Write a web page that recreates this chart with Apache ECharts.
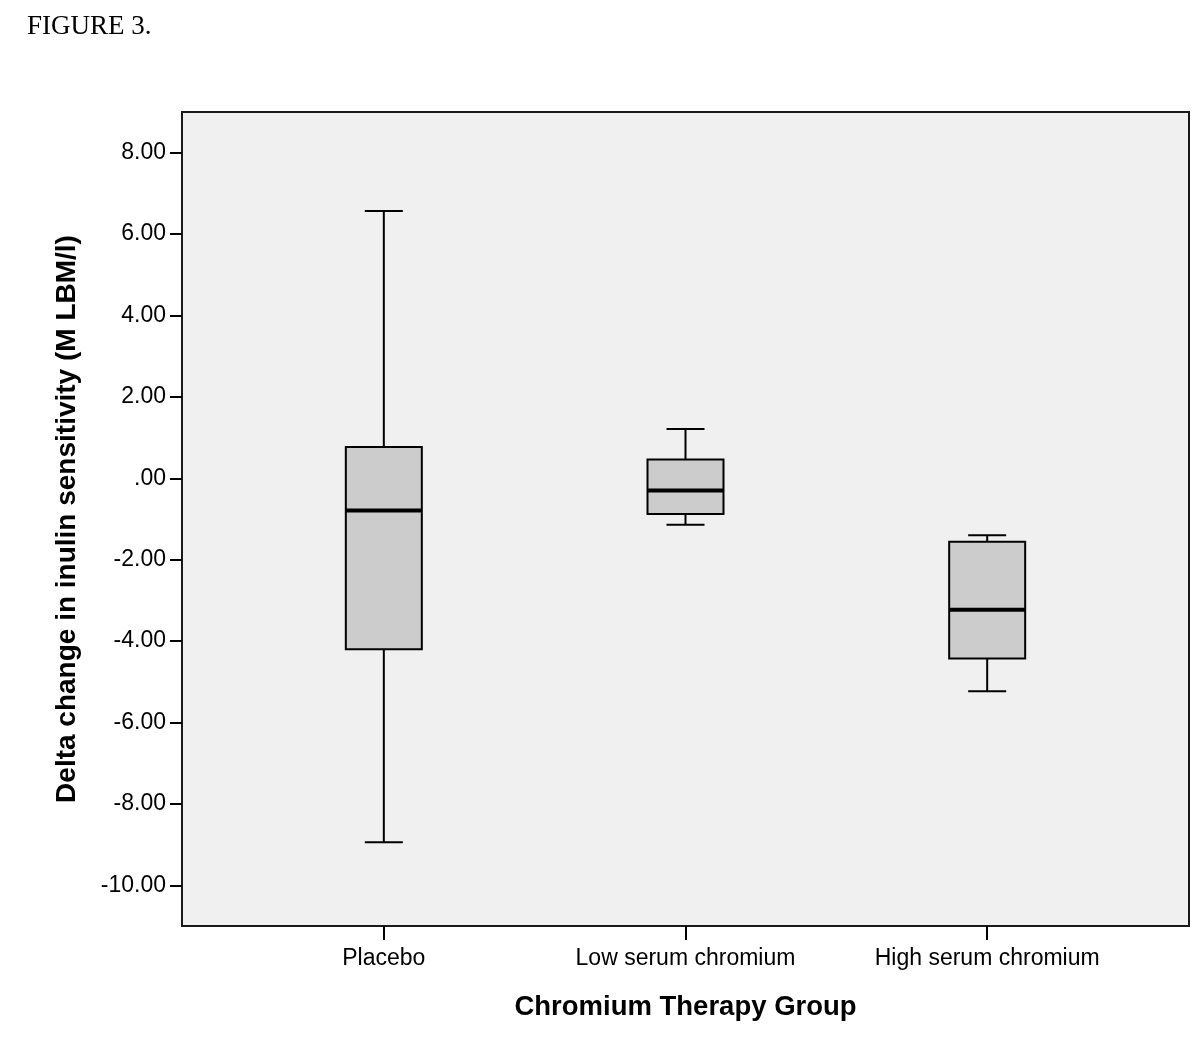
<!DOCTYPE html>
<html>
<head>
<meta charset="utf-8">
<script src="https://cdn.jsdelivr.net/npm/echarts@6/dist/echarts.min.js"></script>
<style>
html,body{margin:0;padding:0;background:#fff;}
#chart{width:1200px;height:1042px;}
</style>
</head>
<body>
<div id="chart"></div>
<script>
// Data
const categories = ['Placebo', 'Low serum chromium', 'High serum chromium'];
const whiskerLow = [-8.94, -1.14, -5.23];
const q1 = [-4.20, -0.88, -4.43];
const median = [-0.79, -0.30, -3.23];
const q3 = [0.77, 0.46, -1.56];
const whiskerHigh = [6.57, 1.21, -1.40];
const yTicks = [-10, -8, -6, -4, -2, 0, 2, 4, 6, 8];

const FONT = '"Liberation Sans", Arial, sans-serif';
const boxData = categories.map((c, i) => [i + 1, whiskerLow[i], q1[i], median[i], q3[i], whiskerHigh[i]]);

function fmtY(v) {
  let s = Math.abs(v).toFixed(2);
  if (Math.abs(v) < 1) s = s.replace(/^0/, '');
  return (v < 0 ? '-' : '') + s;
}

const BOX_W = 76, CAP_W = 38;

function renderBox(params, api) {
  const x = api.value(0);
  const pLow = api.coord([x, api.value(1)]);
  const pQ1 = api.coord([x, api.value(2)]);
  const pMed = api.coord([x, api.value(3)]);
  const pQ3 = api.coord([x, api.value(4)]);
  const pHigh = api.coord([x, api.value(5)]);
  const cx = pLow[0];
  const lineStyle = { stroke: '#000', lineWidth: 2 };
  return {
    type: 'group',
    children: [
      { type: 'line', shape: { x1: cx, y1: pHigh[1], x2: cx, y2: pQ3[1] }, style: lineStyle },
      { type: 'line', shape: { x1: cx, y1: pQ1[1], x2: cx, y2: pLow[1] }, style: lineStyle },
      { type: 'line', shape: { x1: cx - CAP_W / 2, y1: pHigh[1], x2: cx + CAP_W / 2, y2: pHigh[1] }, style: lineStyle },
      { type: 'line', shape: { x1: cx - CAP_W / 2, y1: pLow[1], x2: cx + CAP_W / 2, y2: pLow[1] }, style: lineStyle },
      { type: 'rect', shape: { x: cx - BOX_W / 2, y: pQ3[1], width: BOX_W, height: pQ1[1] - pQ3[1] },
        style: { fill: '#cccccc', stroke: '#000', lineWidth: 2 } },
      { type: 'line', shape: { x1: cx - BOX_W / 2, y1: pMed[1], x2: cx + BOX_W / 2, y2: pMed[1] },
        style: { stroke: '#000', lineWidth: 4 } }
    ]
  };
}

const chart = echarts.init(document.getElementById('chart'), null, { renderer: 'canvas' });
chart.setOption({
  backgroundColor: '#ffffff',
  animation: false,
  title: {
    text: 'FIGURE 3.',
    left: 22, top: 8,
    textStyle: { fontFamily: '"Liberation Serif", "Times New Roman", serif', fontSize: 27, fontWeight: 'normal', color: '#000' }
  },
  grid: {
    left: 182, top: 112, right: 11, bottom: 116,
    show: true, backgroundColor: '#f0f0f0', borderColor: '#1a1a1a', borderWidth: 2
  },
  xAxis: {
    type: 'value',
    min: 0.331, max: 3.669,
    splitLine: { show: false },
    axisLine: { show: false, onZero: false },
    axisTick: { show: true, length: 14, inside: false, customValues: [1, 2, 3], lineStyle: { color: '#000', width: 2 } },
    axisLabel: {
      customValues: [1, 2, 3],
      formatter: v => categories[Math.round(v) - 1],
      fontFamily: FONT, fontSize: 23, color: '#000', margin: 21
    },
    name: 'Chromium Therapy Group',
    nameLocation: 'middle',
    nameGap: 67,
    nameTextStyle: { fontFamily: FONT, fontSize: 27.5, fontWeight: 'bold', color: '#000' }
  },
  yAxis: {
    type: 'value',
    min: -11, max: 9,
    splitLine: { show: false },
    axisLine: { show: false, onZero: false },
    axisTick: { show: true, length: 12, inside: false, customValues: yTicks, lineStyle: { color: '#000', width: 2 } },
    axisLabel: {
      customValues: yTicks,
      formatter: fmtY,
      fontFamily: FONT, fontSize: 23, color: '#000', margin: 16
    },
    name: 'Delta change in inulin sensitivity (M LBM/l)',
    nameLocation: 'middle',
    nameGap: 101,
    nameRotate: 90,
    nameTextStyle: { fontFamily: FONT, fontSize: 28, fontWeight: 'bold', color: '#000' }
  },
  series: [{
    type: 'custom',
    renderItem: renderBox,
    data: boxData,
    encode: { x: 0, y: [1, 2, 3, 4, 5] },
    z: 5
  }]
});
</script>
</body>
</html>
